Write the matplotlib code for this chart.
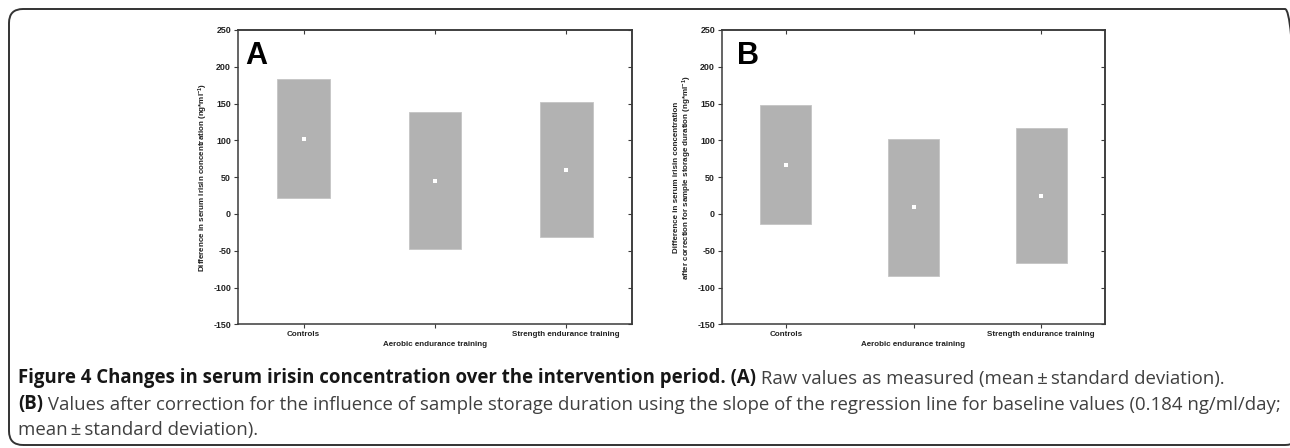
import matplotlib
matplotlib.use('Agg')
import matplotlib.pyplot as plt
from matplotlib.patches import FancyBboxPatch
from matplotlib.transforms import IdentityTransform

# data (mean and standard deviation, ng/ml)
groups = ['Controls', 'Aerobic endurance training', 'Strength endurance training']
raw_mean = [102, 45, 60]
raw_sd = [81, 93, 92]
corr_mean = [67, 9, 25]
corr_sd = [81, 93, 92]
y_ticks = [-150, -100, -50, 0, 50, 100, 150, 200, 250]

label_a = 'Difference in serum irisin concentration (ng*ml$^{-1}$)'
label_b = ('Difference in serum irisin concentration\n'
           'after correction for sample storage duration (ng*ml$^{-1}$)')

caption_lines = [
    (383, [('Figure 4 Changes in serum irisin concentration over the intervention period. (A)', True),
           (' Raw values as measured (mean\u2009\u00b1\u2009standard deviation).', False)]),
    (409, [('(B)', True),
           (' Values after correction for the influence of sample storage duration using the slope '
            'of the regression line for baseline values (0.184 ng/ml/day;', False)]),
    (435, [('mean\u2009\u00b1\u2009standard deviation).', False)]),
]

plt.rcParams['font.family'] = ['Liberation Sans', 'DejaVu Sans']
plt.rcParams['mathtext.default'] = 'regular'
plt.rcParams['axes.unicode_minus'] = False

BOX_COLOR = '#b2b2b2'
SPINE_COLOR = '#3a3a3a'
TEXT_COLOR = '#222222'


def draw_panel(ax, means, sds, letter, ylabel, letter_x, label_x):
    pos = list(range(len(groups)))
    lows = [m - s for m, s in zip(means, sds)]
    heights = [2 * s for s in sds]
    ax.bar(pos, heights, bottom=lows, width=0.4, color=BOX_COLOR,
           edgecolor='#c4c4c4', linewidth=0.6, zorder=2)
    ax.plot(pos, means, linestyle='none', marker='s', markersize=3,
            color='white', markeredgewidth=0, zorder=3)

    ax.set_xlim(-0.5, 2.5)
    ax.set_ylim(-150, 250)
    ax.set_yticks(y_ticks)
    ax.set_xticks(pos)
    ticklabels = [groups[0], '\n' + groups[1], groups[2]]
    ax.set_xticklabels(ticklabels, fontsize=5.8, fontweight='bold', color=TEXT_COLOR)
    ax.get_xticklabels()[1].set_linespacing(1.5)
    for t in ax.get_yticklabels():
        t.set_fontsize(6.4)
        t.set_fontweight('bold')
        t.set_color(TEXT_COLOR)

    ax.tick_params(direction='out', length=3, width=0.8, color=SPINE_COLOR, pad=2)
    for s in ax.spines.values():
        s.set_color(SPINE_COLOR)
        s.set_linewidth(1.1)

    # inward ticks on top and right, no labels
    top = ax.secondary_xaxis('top')
    top.set_xticks(pos)
    top.tick_params(direction='in', length=3, width=0.8, color=SPINE_COLOR, labeltop=False)
    top.spines['top'].set_color(SPINE_COLOR)
    top.spines['top'].set_linewidth(1.1)
    right = ax.secondary_yaxis('right')
    right.set_yticks(y_ticks)
    right.tick_params(direction='in', length=3, width=0.8, color=SPINE_COLOR, labelright=False)
    right.spines['right'].set_color(SPINE_COLOR)
    right.spines['right'].set_linewidth(1.1)

    ax.set_ylabel(ylabel, fontsize=5.8, fontweight='bold', color=TEXT_COLOR, linespacing=1.1)
    ax.yaxis.set_label_coords(label_x, 0.5)
    ax.text(letter_x, 0.884, letter, transform=ax.transAxes, fontsize=22,
            fontweight='heavy', color='black', va='baseline', ha='left')


fig = plt.figure(figsize=(12.9, 4.48), dpi=100)
ax_a = fig.add_axes([0.1845, 0.2761, 0.3054, 0.657])
ax_b = fig.add_axes([0.5597, 0.2761, 0.2969, 0.657])
draw_panel(ax_a, raw_mean, raw_sd, 'A', label_a, 0.018, -0.072)
draw_panel(ax_b, corr_mean, corr_sd, 'B', label_b, 0.039, -0.073)

# rounded frame around the figure and caption, cut off on the right
frame = FancyBboxPatch((9, 3), 1290, 436, boxstyle='round,pad=0,rounding_size=14',
                       transform=IdentityTransform(), facecolor='none',
                       edgecolor='#333333', linewidth=1.4)
fig.patches.append(frame)

# caption: bold and regular runs placed one after the other
cap_font = ['Open Sans', 'DejaVu Sans']
for y_px, runs in caption_lines:
    last = None
    for txt, bold in runs:
        kw = dict(family=cap_font, fontsize=13.4,
                  fontweight='bold' if bold else 'normal',
                  color='#161616' if bold else '#404040')
        if last is None:
            last = fig.text(18 / 1290, 1 - y_px / 448, txt, va='baseline', ha='left', **kw)
        else:
            last = ax_a.annotate(txt, xy=(1, 0), xycoords=last, va='bottom', ha='left',
                                 annotation_clip=False, **kw)

fig.savefig('out.png', dpi=100)
